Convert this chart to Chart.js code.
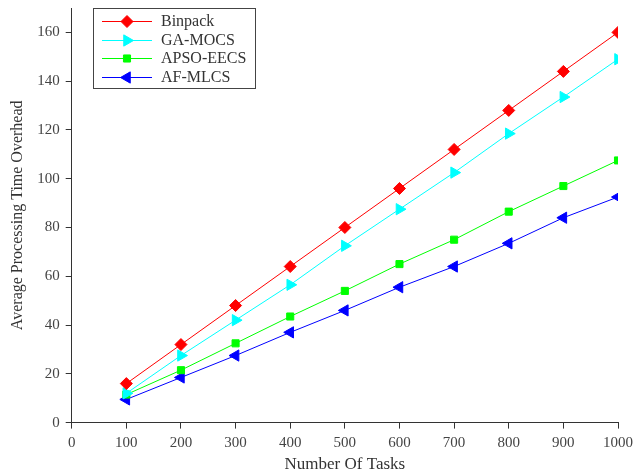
<!DOCTYPE html>
<html>
<head>
<meta charset="utf-8">
<script src="https://cdn.jsdelivr.net/npm/chart.js@4/dist/chart.umd.min.js"></script>
<style>
  html, body { margin: 0; padding: 0; background: #fff; }
  #wrap { width: 633px; height: 474px; }
</style>
</head>
<body>
<div id="wrap"><canvas id="grafico"></canvas></div>
<script>
// dados
const tasks = [100, 200, 300, 400, 500, 600, 700, 800, 900, 1000];
const binpack = [16, 32, 48, 64, 80, 96, 112, 128, 144, 160];
const gaMocs = [12, 27.5, 42, 56.5, 72.5, 87.5, 102.5, 118.5, 133.5, 149];
const apsoEecs = [11.5, 21.5, 32.5, 43.5, 54, 65, 75, 86.5, 97, 107.5];
const afMlcs = [9.5, 18.5, 27.5, 37, 46, 55.5, 64, 73.5, 84, 92.5];
const yTicks = [0, 20, 40, 60, 80, 100, 120, 140, 160];
const xTicks = [0, 100, 200, 300, 400, 500, 600, 700, 800, 900, 1000];

const fonte = 'Liberation Serif';

function serie(label, valores, cor, estilo, raio, rotacao) {
    return {
        label: label,
        data: tasks.map((t, i) => ({ x: t, y: valores[i] })),
        borderColor: cor,
        backgroundColor: cor,
        pointBorderColor: cor,
        pointBackgroundColor: cor,
        borderWidth: 1,
        pointStyle: estilo,
        pointRadius: raio,
        pointHoverRadius: raio,
        pointRotation: rotacao,
        pointBorderWidth: 1,
        tension: 0
    };
}

// legenda desenhada dentro da área do gráfico (linha + marcador)
const legendaInterna = {
    id: 'legendaInterna',
    afterDraw(chart) {
        const ctx = chart.ctx;
        const x0 = 93, y0 = 8, w = 162, h = 80;
        ctx.save();
        ctx.fillStyle = '#fff';
        ctx.fillRect(x0, y0, w, h);
        ctx.strokeStyle = '#444';
        ctx.lineWidth = 1;
        ctx.strokeRect(x0 + 0.5, y0 + 0.5, w, h);
        const linhas = [21, 40, 58, 77];
        chart.data.datasets.forEach((ds, i) => {
            const y = linhas[i];
            ctx.strokeStyle = ds.borderColor;
            ctx.fillStyle = ds.backgroundColor;
            ctx.lineWidth = 1;
            ctx.beginPath();
            ctx.moveTo(102, y + 0.5);
            ctx.lineTo(152, y + 0.5);
            ctx.stroke();
            Chart.helpers.drawPoint(ctx, {
                pointStyle: ds.pointStyle,
                radius: ds.pointRadius,
                rotation: ds.pointRotation,
                borderWidth: 1
            }, 127, y + 0.5);
            ctx.fillStyle = '#333';
            ctx.font = '16px "' + fonte + '"';
            ctx.textBaseline = 'middle';
            ctx.textAlign = 'left';
            ctx.fillText(ds.label, 161, y + 1);
        });
        ctx.restore();
    }
};

const area = document.getElementById('grafico');
new Chart(area, {
    type: 'line',
    data: {
        datasets: [
            serie('Binpack', binpack, '#ff0000', 'rectRot', 6, 0),
            serie('GA-MOCS', gaMocs, '#00ffff', 'triangle', 6.5, 90),
            serie('APSO-EECS', apsoEecs, '#00ff00', 'rect', 5, 0),
            serie('AF-MLCS', afMlcs, '#0000ff', 'triangle', 6.5, -90)
        ]
    },
    options: {
        responsive: true,
        maintainAspectRatio: false,
        animation: false,
        layout: { padding: { left: 8, right: 0, top: 8, bottom: -1 } },
        plugins: {
            legend: { display: false },
            tooltip: { enabled: false }
        },
        scales: {
            x: {
                type: 'linear',
                min: 0,
                max: 1000,
                afterBuildTicks: (s) => { s.ticks = xTicks.map(v => ({ value: v })); },
                afterFit: (s) => { s.paddingRight = 15; },
                grid: { drawOnChartArea: false, tickLength: 6, color: '#333' },
                border: { color: '#333', width: 1 },
                ticks: { color: '#444', font: { family: fonte, size: 15 }, padding: 5, maxRotation: 0, callback: (v) => String(v) },
                title: { display: true, text: 'Number Of Tasks', color: '#333', font: { family: fonte, size: 17 }, padding: { top: -2, bottom: 0 } }
            },
            y: {
                min: 0,
                max: 170,
                afterBuildTicks: (s) => { s.ticks = yTicks.map(v => ({ value: v })); },
                afterFit: (s) => { s.paddingTop = 0; },
                grid: { drawOnChartArea: false, tickLength: 6, color: '#333' },
                border: { color: '#333', width: 1 },
                ticks: { color: '#444', font: { family: fonte, size: 15 }, padding: 6, callback: (v) => String(v) },
                title: { display: true, text: 'Average Processing Time Overhead', color: '#333', font: { family: fonte, size: 16 }, padding: { top: 0, bottom: 4 } }
            }
        }
    },
    plugins: [legendaInterna]
});
</script>
</body>
</html>
